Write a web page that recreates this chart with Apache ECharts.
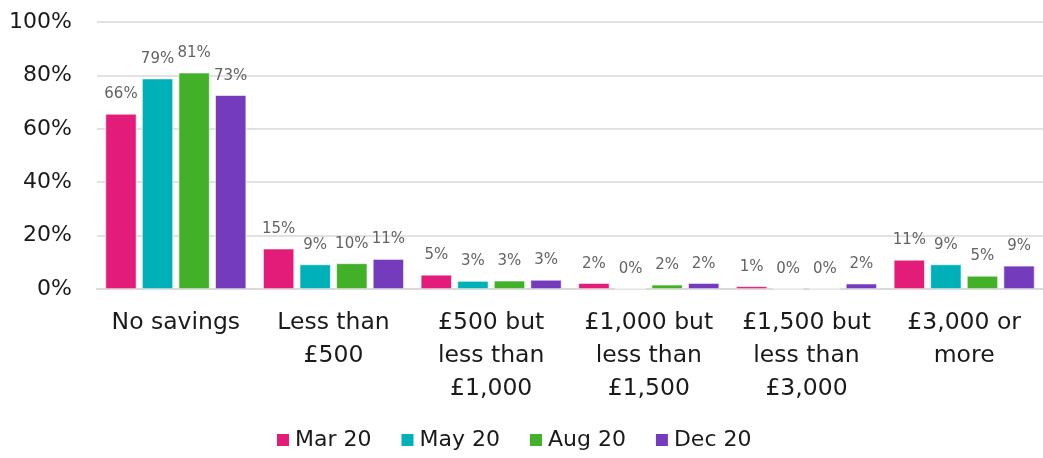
<!DOCTYPE html>
<html>
<head>
<meta charset="utf-8">
<script src="https://cdn.jsdelivr.net/npm/echarts@6/dist/echarts.min.js"></script>
<style>
  html, body { margin: 0; padding: 0; background: #fff; }
  #chart { width: 1043px; height: 458px; }
</style>
</head>
<body>
<div id="chart"></div>
<script>
// categories + series (percent of respondents)
const categories = [
  "No savings",
  "Less than\n£500",
  "£500 but\nless than\n£1,000",
  "£1,000 but\nless than\n£1,500",
  "£1,500 but\nless than\n£3,000",
  "£3,000 or\nmore",
];
const mar20 = [65.6, 15.1, 5.3, 2.2, 1.0, 10.9];
const may20 = [78.8, 9.2, 3.0, 0.2, 0.1, 9.2];
const aug20 = [81.0, 9.6, 3.1, 1.6, 0.1, 4.9];
const dec20 = [72.6, 11.2, 3.4, 2.2, 2.0, 8.7];
const yTicks = [0, 20, 40, 60, 80, 100];

const FONT = "'DejaVu Sans', sans-serif";
const COLORS = ["#e31c79", "#00b0b9", "#43b02a", "#753bbd"];

const chart = echarts.init(document.getElementById("chart"));

function makeSeries(name, data) {
  return {
    name,
    type: "bar",
    data,
    barWidth: 31,
    barGap: "18%",
    itemStyle: { borderColor: "#ffffff", borderWidth: 0.6 },
    label: {
      show: true,
      position: "top",
      distance: 12,
      color: "#636363",
      fontSize: 15,
      fontFamily: FONT,
      formatter: (p) => Math.round(p.value) + "%",
    },
  };
}

chart.setOption({
  color: COLORS,
  animation: false,
  textStyle: { fontFamily: FONT },
  grid: { left: 97, width: 960, top: 22, bottom: 169 },
  legend: {
    bottom: 2,
    left: 270,
    icon: "rect",
    itemWidth: 14,
    itemHeight: 14,
    itemGap: 28,
    textStyle: { fontSize: 22, color: "#1a1a1a", fontFamily: FONT },
  },
  xAxis: {
    type: "category",
    data: categories,
    axisTick: { show: false },
    axisLine: { lineStyle: { color: "#d9d9d9", width: 2 } },
    axisLabel: {
      color: "#1a1a1a",
      fontSize: 23.5,
      lineHeight: 33,
      margin: 17,
      interval: 0,
      fontFamily: FONT,
    },
  },
  yAxis: {
    type: "value",
    min: yTicks[0],
    max: yTicks[yTicks.length - 1],
    interval: 20,
    axisLabel: {
      color: "#1a1a1a",
      fontSize: 22,
      margin: 25,
      fontFamily: FONT,
      formatter: "{value}%",
    },
    splitLine: { lineStyle: { color: "#d9d9d9", width: 1.5 } },
  },
  series: [
    makeSeries("Mar 20", mar20),
    makeSeries("May 20", may20),
    makeSeries("Aug 20", aug20),
    makeSeries("Dec 20", dec20),
  ],
});
</script>
</body>
</html>
